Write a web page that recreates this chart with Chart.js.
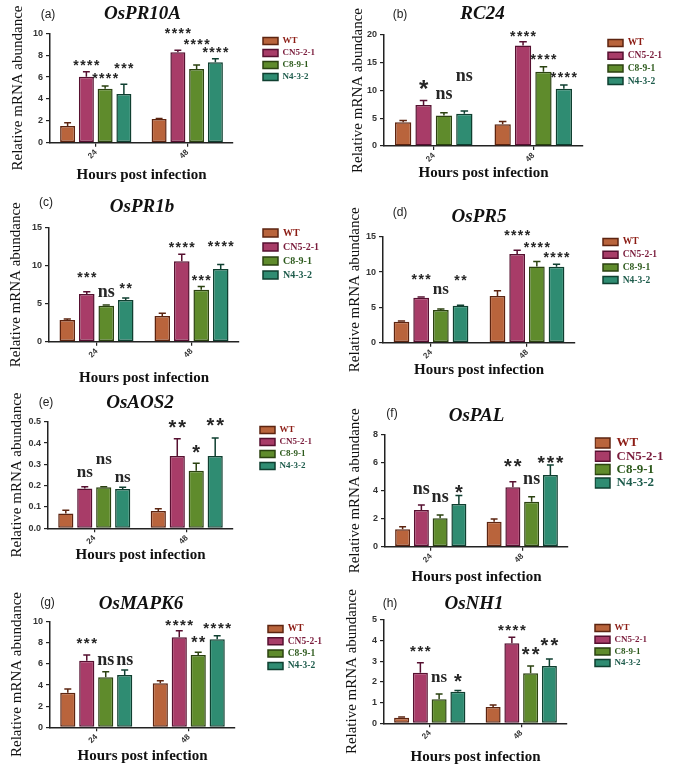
<!DOCTYPE html>
<html><head><meta charset="utf-8">
<script src="https://cdn.jsdelivr.net/npm/chart.js@4.4.1/dist/chart.umd.min.js"></script>
<style>
html,body{margin:0;padding:0;background:#fff;}
body{width:675px;height:772px;position:relative;overflow:hidden;}
canvas{position:absolute;}
</style></head><body>
<script>
// ---------------- data ----------------
const categories = ['24', '48'];
const seriesNames = ['WT', 'CN5-2-1', 'C8-9-1', 'N4-3-2'];
const panelTags = ['(a)', '(b)', '(c)', '(d)', '(e)', '(f)', '(g)', '(h)'];
const geneNames = ['OsPR10A', 'RC24', 'OsPR1b', 'OsPR5', 'OsAOS2', 'OsPAL', 'OsMAPK6', 'OsNH1'];
const yAxisTitle = 'Relative mRNA abundance';
const xAxisTitle = 'Hours post infection';

// [series][time]  series order = WT, CN5-2-1, C8-9-1, N4-3-2 ; time order = 24, 48
const OsPR10A_mean = [[1.53, 2.17], [6.03, 8.26], [4.94, 6.74], [4.45, 7.35]];
const OsPR10A_sem  = [[0.30, 0.04], [0.45, 0.20], [0.24, 0.36], [0.89, 0.33]];
const OsPR10A_sig  = [['', ''], ['****', '****'], ['****', '****'], ['***', '****']];
const OsPR10A_sigY = [[null, null], [7.3, 10.2], [6.1, 9.2], [7.05, 8.5]];
const OsPR10A_ticks = [0, 2, 4, 6, 8, 10];

const RC24_mean = [[4.3, 3.9], [7.4, 18.1], [5.5, 13.4], [5.8, 10.3]];
const RC24_sem  = [[0.3, 0.5], [0.8, 0.7], [0.5, 0.9], [0.5, 0.7]];
const RC24_sig  = [['', ''], ['*', '****'], ['ns', '****'], ['ns', '****']];
const RC24_sigY = [[null, null], [11.0, 20.3], [9.2, 16.0], [12.5, 12.8]];
const RC24_ticks = [0, 5, 10, 15, 20];

const OsPR1b_mean = [[2.85, 3.38], [6.27, 10.6], [4.74, 6.85], [5.5, 9.57]];
const OsPR1b_sem  = [[0.15, 0.35], [0.3, 0.9], [0.1, 0.4], [0.25, 0.6]];
const OsPR1b_sig  = [['', ''], ['***', '****'], ['ns', '***'], ['**', '****']];
const OsPR1b_sigY = [[null, null], [8.87, 12.7], [6.37, 8.47], [7.33, 12.85]];
const OsPR1b_ticks = [0, 5, 10, 15];

const OsPR5_mean = [[2.97, 6.6], [6.37, 12.55], [4.62, 10.8], [5.24, 10.75]];
const OsPR5_sem  = [[0.1, 0.75], [0.1, 0.55], [0.15, 0.7], [0.05, 0.35]];
const OsPR5_sig  = [['', ''], ['***', '****'], ['ns', '****'], ['**', '****']];
const OsPR5_sigY = [[null, null], [9.34, 15.56], [7.45, 13.8], [9.25, 12.4]];
const OsPR5_ticks = [0, 5, 10, 15];

const OsAOS2_mean = [[0.07, 0.081], [0.187, 0.339], [0.192, 0.27], [0.184, 0.339]];
const OsAOS2_sem  = [[0.015, 0.011], [0.008, 0.081], [0.003, 0.035], [0.008, 0.085]];
const OsAOS2_sig  = [['', ''], ['ns', '**'], ['ns', '*'], ['ns', '**']];
const OsAOS2_sigY = [[null, null], [0.258, 0.492], [0.32, 0.375], [0.234, 0.5]];
const OsAOS2_ticks = [0, 0.1, 0.2, 0.3, 0.4, 0.5];

const OsPAL_mean = [[1.25, 1.79], [2.63, 4.25], [2.03, 3.22], [3.06, 5.14]];
const OsPAL_sem  = [[0.18, 0.2], [0.35, 0.4], [0.24, 0.36], [0.6, 0.72]];
const OsPAL_sig  = [['', ''], ['ns', '**'], ['ns', 'ns'], ['*', '***']];
const OsPAL_sigY = [[null, null], [4.06, 6.02], [3.47, 4.78], [4.18, 6.26]];
const OsPAL_ticks = [0, 2, 4, 6, 8];

const OsMAPK6_mean = [[3.28, 4.17], [6.31, 8.52], [4.73, 6.85], [4.95, 8.33]];
const OsMAPK6_sem  = [[0.35, 0.24], [0.54, 0.63], [0.54, 0.25], [0.48, 0.35]];
const OsMAPK6_sig  = [['', ''], ['***', '****'], ['ns', '**'], ['ns', '****']];
const OsMAPK6_sigY = [[null, null], [8.27, 10.0], [6.28, 8.33], [6.28, 9.69]];
const OsMAPK6_ticks = [0, 2, 4, 6, 8, 10];

const OsNH1_mean = [[0.27, 0.79], [2.45, 3.87], [1.16, 2.42], [1.53, 2.77]];
const OsNH1_sem  = [[0.04, 0.1], [0.48, 0.3], [0.26, 0.35], [0.06, 0.34]];
const OsNH1_sig  = [['', ''], ['***', '****'], ['ns', '**'], ['*', '**']];
const OsNH1_sigY = [[null, null], [3.63, 4.63], [2.18, 3.51], [2.23, 3.95]];
const OsNH1_ticks = [0, 1, 2, 3, 4, 5];

// ---------------- styles ----------------
const fillColors   = ['#b9643c', '#a83c68', '#5f8b2c', '#2f8c72'];
const borderColors = ['#5c2410', '#561030', '#2b4210', '#0f3f30'];
const legendText   = ['#8c1c14', '#7a1c3c', '#2d5a1c', '#1e5c4c'];

const panelData = [
  {mean: OsPR10A_mean, sem: OsPR10A_sem, sig: OsPR10A_sig, sigY: OsPR10A_sigY, ticks: OsPR10A_ticks},
  {mean: RC24_mean, sem: RC24_sem, sig: RC24_sig, sigY: RC24_sigY, ticks: RC24_ticks},
  {mean: OsPR1b_mean, sem: OsPR1b_sem, sig: OsPR1b_sig, sigY: OsPR1b_sigY, ticks: OsPR1b_ticks},
  {mean: OsPR5_mean, sem: OsPR5_sem, sig: OsPR5_sig, sigY: OsPR5_sigY, ticks: OsPR5_ticks},
  {mean: OsAOS2_mean, sem: OsAOS2_sem, sig: OsAOS2_sig, sigY: OsAOS2_sigY, ticks: OsAOS2_ticks},
  {mean: OsPAL_mean, sem: OsPAL_sem, sig: OsPAL_sig, sigY: OsPAL_sigY, ticks: OsPAL_ticks},
  {mean: OsMAPK6_mean, sem: OsMAPK6_sem, sig: OsMAPK6_sig, sigY: OsMAPK6_sigY, ticks: OsMAPK6_ticks},
  {mean: OsNH1_mean, sem: OsNH1_sem, sig: OsNH1_sig, sigY: OsNH1_sigY, ticks: OsNH1_ticks}
];

// ---------------- layout (page pixels) ----------------
const panelLayout = [
  {box:[0,0,335,190],   plot:[50,33.3,233,142.7],  yTitleX:18,  xTitleY:175,   title:[142.5,14],  tag:[48,15],    legend:[263,41,12],   lFont:9,   lBox:7,  star:14, star2:14, ns:17},
  {box:[335,0,340,190], plot:[384,35,583,146],     yTitleX:358, xTitleY:173.3, title:[482.5,14],  tag:[400,15],   legend:[608,43,12.7], lFont:9.5, lBox:7,  star:14, star2:24, ns:18},
  {box:[0,190,335,200], plot:[49,227.7,239,341.7], yTitleX:16,  xTitleY:378,   title:[142,206.7], tag:[46,203],   legend:[263,233,14],  lFont:10,  lBox:8,  star:14, star2:14, ns:18},
  {box:[335,190,340,195],plot:[383,236.7,575,342.7],yTitleX:355,xTitleY:370,   title:[479,216.7], tag:[400,212.7],legend:[603,242,12.7],lFont:9.5, lBox:7,  star:14, star2:14, ns:17},
  {box:[0,385,335,190], plot:[48,421.7,233,528.3], yTitleX:17,  xTitleY:555,   title:[140,403.3], tag:[46,403],   legend:[260,430,12],  lFont:9,   lBox:7,  star:18, star2:20, ns:17},
  {box:[335,385,340,205],plot:[385,435,568,546.7], yTitleX:355, xTitleY:576.7, title:[476.5,415.7],tag:[392,413.3],legend:[595,443,13.3],lFont:13,  lBox:10, star:19, star2:20, ns:18},
  {box:[0,585,335,187], plot:[50,621.7,235,727.3], yTitleX:17,  xTitleY:756,   title:[141,604],   tag:[47.5,603], legend:[268,629,12.3],lFont:9.5, lBox:7,  star:15, star2:16, ns:18},
  {box:[335,585,340,187],plot:[384,620,567,723.3], yTitleX:352, xTitleY:756.7, title:[474,604],   tag:[390,604],  legend:[595,628,11.7],lFont:9,   lBox:7,  star:15, star2:20, ns:17}
];

const TITLE_SIZE = 19, TAG_SIZE = 12, YT_SIZE = 15, XT_SIZE = 15;

function makePanel(i) {
  const D = panelData[i], L = panelLayout[i];
  const [ox, oy, W, H] = L.box;
  const cv = document.createElement('canvas');
  cv.width = W; cv.height = H;
  cv.style.left = ox + 'px'; cv.style.top = oy + 'px';
  cv.style.width = W + 'px'; cv.style.height = H + 'px';
  document.body.appendChild(cv);

  const pl = L.plot[0] - ox, pt = L.plot[1] - oy, pr = L.plot[2] - ox, pb = L.plot[3] - oy;
  const decimals = D.ticks.some(v => Math.round(v) !== v) ? 1 : 0;
  const ytLH = YT_SIZE * 1.2, xtLH = XT_SIZE * 1.2;
  const lItemH = Math.max(L.lFont, L.lBox);
  const lPad = Math.max(0, L.legend[2] - lItemH);

  const placer = {
    id: 'placer' + i,
    afterLayout(chart) {
      const t = chart.titleBlock;
      if (t) {
        t.left = L.title[0] - ox - 150; t.right = L.title[0] - ox + 150;
        t.top = L.title[1] - oy - TITLE_SIZE / 2; t.bottom = t.top + TITLE_SIZE;
      }
      const st = chart.boxes.find(b => b !== t && b !== chart.legend && b.options && b.options.text === panelTags[i]);
      if (st) {
        st.left = L.tag[0] - ox - 30; st.right = L.tag[0] - ox + 30;
        st.top = L.tag[1] - oy - TAG_SIZE / 2; st.bottom = st.top + TAG_SIZE;
      }
      const lg = chart.legend;
      if (lg) {
        lg.left = L.legend[0] - ox - lPad;
        lg.top = L.legend[1] - oy - lPad - lItemH / 2;
        lg.right = lg.left + 150; lg.bottom = lg.top + 200;
      }
    },
    afterDatasetsDraw(chart) {
      const ctx = chart.ctx, ys = chart.scales.y;
      ctx.save();
      chart.data.datasets.forEach((ds, s) => {
        const meta = chart.getDatasetMeta(s);
        meta.data.forEach((bar, c) => {
          const m = D.mean[s][c], e = D.sem[s][c];
          const top = ys.getPixelForValue(m), tip = ys.getPixelForValue(m + e);
          const hw = bar.width * 0.23;
          ctx.strokeStyle = borderColors[s];
          ctx.lineWidth = 1.5;
          ctx.beginPath();
          ctx.moveTo(bar.x, top); ctx.lineTo(bar.x, tip);
          ctx.moveTo(bar.x - hw, tip); ctx.lineTo(bar.x + hw, tip);
          ctx.stroke();
        });
      });
      // significance marks
      chart.data.datasets.forEach((ds, s) => {
        const meta = chart.getDatasetMeta(s);
        meta.data.forEach((bar, c) => {
          const txt = D.sig[s][c];
          if (!txt) return;
          const yv = D.sigY[s][c] != null ? D.sigY[s][c] : D.mean[s][c] + D.sem[s][c];
          const cy = ys.getPixelForValue(yv);
          ctx.fillStyle = '#262626';
          ctx.textAlign = 'center';
          ctx.textBaseline = 'alphabetic';
          if (txt === 'ns') {
            try { ctx.letterSpacing = '0px'; } catch (err) {}
            ctx.font = 'bold ' + L.ns + 'px "Liberation Serif"';
            ctx.fillText(txt, bar.x, cy + L.ns * 0.23);
          } else {
            const px = txt.length >= 3 ? L.star : L.star2;
            try { ctx.letterSpacing = (px * 0.1).toFixed(1) + 'px'; } catch (err) {}
            ctx.font = 'bold ' + px + 'px "Liberation Sans"';
            ctx.fillText(txt, bar.x + px * 0.05, cy + px * 0.52);
          }
        });
      });
      try { ctx.letterSpacing = '0px'; } catch (err) {}
      ctx.restore();
    }
  };

  new Chart(cv, {
    type: 'bar',
    data: {
      labels: categories,
      datasets: seriesNames.map((name, s) => ({
        label: name,
        data: D.mean[s],
        backgroundColor: fillColors[s],
        borderColor: borderColors[s],
        borderWidth: 1.5,
        borderSkipped: false,
        categoryPercentage: 0.82,
        barPercentage: 0.8
      }))
    },
    options: {
      responsive: false,
      animation: false,
      devicePixelRatio: 1,
      layout: { padding: { left: 0, top: pt - TITLE_SIZE - TAG_SIZE, right: W - pr, bottom: 0 } },
      plugins: {
        tooltip: { enabled: false },
        title: {
          display: true, text: geneNames[i], color: '#111', padding: 0,
          font: { family: 'Liberation Serif', size: TITLE_SIZE, style: 'italic', weight: 'bold', lineHeight: 1 }
        },
        subtitle: {
          display: true, text: panelTags[i], color: '#222', padding: 0,
          font: { family: 'Liberation Sans', size: TAG_SIZE, lineHeight: 1 }
        },
        legend: {
          display: true, position: 'chartArea', align: 'start',
          labels: {
            boxWidth: 15, boxHeight: L.lBox, padding: lPad,
            font: { family: 'Liberation Serif', weight: 'bold', size: L.lFont },
            generateLabels(chart) {
              const items = Chart.defaults.plugins.legend.labels.generateLabels(chart);
              items.forEach((it, k) => { it.fontColor = legendText[k]; it.lineWidth = 1.5; });
              return items;
            }
          }
        }
      },
      scales: {
        x: {
          grid: { offset: false, drawOnChartArea: false, drawTicks: true, tickLength: 4, color: '#222', lineWidth: 1.2 },
          border: { display: true, color: '#222', width: 1.5 },
          ticks: { minRotation: 45, maxRotation: 45, autoSkip: false, padding: 1, color: '#333',
                   font: { family: 'Liberation Sans', weight: 'bold', size: 8 } },
          title: { display: true, text: xAxisTitle, color: '#111',
                   padding: { top: 0, bottom: Math.max(0, H - (L.xTitleY - oy) - xtLH / 2) },
                   font: { family: 'Liberation Serif', weight: 'bold', size: XT_SIZE, lineHeight: 1.2 } },
          afterFit(scale) { scale.height = H - pb; }
        },
        y: {
          min: D.ticks[0], max: D.ticks[D.ticks.length - 1],
          afterBuildTicks(scale) { scale.ticks = D.ticks.map(v => ({ value: v })); },
          grid: { drawOnChartArea: false, drawTicks: true, tickLength: 4, color: '#222', lineWidth: 1.2 },
          border: { display: true, color: '#222', width: 1.5 },
          ticks: { padding: 3, color: '#333', font: { family: 'Liberation Sans', weight: 'bold', size: 9 },
                   callback(v) { return Number(v).toFixed(decimals); } },
          title: { display: true, text: yAxisTitle, color: '#111',
                   padding: { top: Math.max(0, (L.yTitleX - ox) - ytLH / 2), bottom: 0 },
                   font: { family: 'Liberation Serif', size: YT_SIZE, lineHeight: 1.2 } },
          afterFit(scale) { scale.width = pl; }
        }
      }
    },
    plugins: [placer]
  });
}

for (let i = 0; i < 8; i++) makePanel(i);
</script>
</body></html>
